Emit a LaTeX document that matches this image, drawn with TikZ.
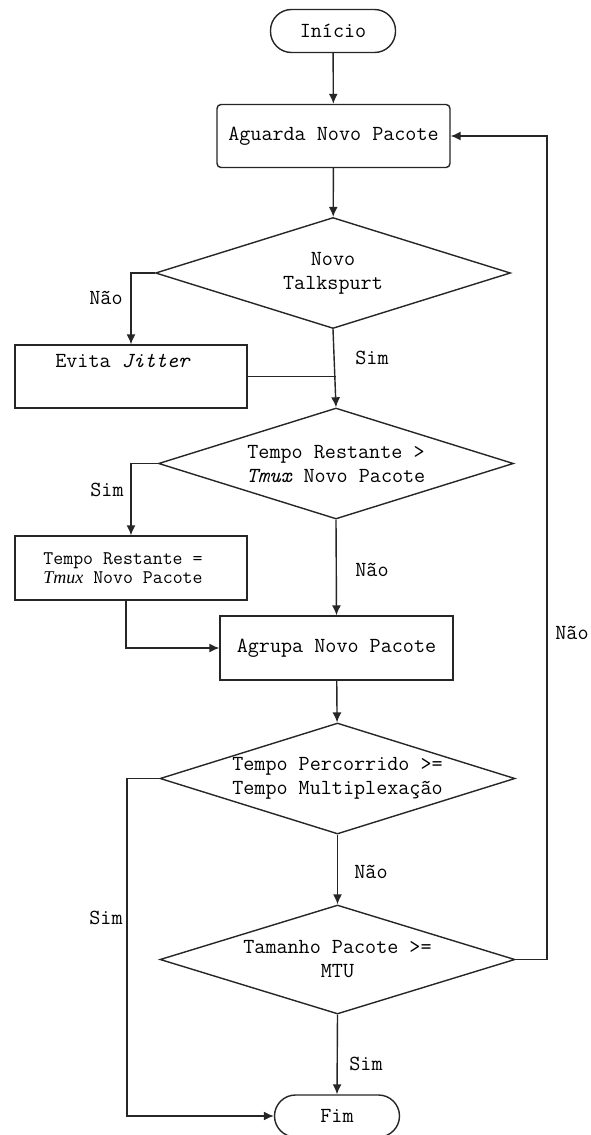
\documentclass[tikz,border=0pt]{standalone}
\usepackage{fontspec}
\newfontfamily\tms{Liberation Serif}
\usetikzlibrary{arrows.meta,shapes.geometric}
\begin{document}
\begin{tikzpicture}[x=1pt,y=-1pt,
  ln/.style={draw=black!85, line width=1.4pt},
  arr/.style={ln, -{Latex[length=10pt,width=9pt]}},
  txt/.style={font=\ttfamily\fontsize{21.5}{24}\selectfont, text=black, align=center, inner sep=0pt},
  small/.style={font=\ttfamily\fontsize{19.3}{19.5}\selectfont, text=black, align=center, inner sep=0pt},
  term/.style={ln, rectangle, rounded corners=21pt, minimum width=125pt, minimum height=43pt, inner sep=0pt, txt},
  proc/.style={ln, rectangle, minimum width=233pt, minimum height=63pt, inner sep=0pt, txt},
  dec/.style={ln, diamond, inner sep=0pt, minimum width=355pt, minimum height=111pt},
  lab/.style={txt}
]
\useasboundingbox (0,0) rectangle (590,1135);
\fill[white] (0,0) rectangle (590,1135);

% nodes
\node[term] (ini) at (333,31) {Início};
\node[proc, rounded corners=4pt] (agu) at (333.5,136) {Aguarda Novo Pacote};
\node[dec, label={[txt]center:{Novo\\Talkspurt}}] (d1) at (333,273) {};
\node[proc, minimum width=232pt, label={[txt, xshift=-8pt, yshift=16pt]center:{Evita \textit{Jitter}}}] (evita) at (131,376.5) {};
\node[dec, label={[txt]center:{Tempo Restante >\\\textit{Tmux} Novo Pacote}}] (d2) at (336,463.5) {};
\node[proc, minimum width=232pt, minimum height=64pt, label={[small, xshift=-8pt]center:{Tempo Restante =\\{\tms\itshape\fontsize{18}{19.5}\selectfont Tmux} Novo Pacote}}] (tr) at (131,568) {};
\node[proc, minimum height=64pt] (agr) at (336.5,648) {Agrupa Novo Pacote};
\node[dec, label={[txt]center:{Tempo Percorrido >=\\Tempo Multiplexação}}] (d3) at (337.5,778.5) {};
\node[dec, minimum height=109pt, label={[txt]center:{Tamanho Pacote >=\\MTU}}] (d4) at (337.5,959.5) {};
\node[term, minimum height=42pt] (fim) at (337,1116) {Fim};

% branch labels
\node[lab] (l1) at (106,298) {Não};
\node[lab] (l2) at (372,358) {Sim};
\node[lab] (l3) at (107,490) {Sim};
\node[lab] (l4) at (372,570) {Não};
\node[lab] (l5) at (106,918) {Sim};
\node[lab] (l6) at (371,872) {Não};
\node[lab] (l7) at (572,633) {Não};
\node[lab] (l8) at (366,1064) {Sim};

% helper coordinates
\coordinate (c1) at (127,1116);
\coordinate (c2) at (547,959.5);

% connectors
\draw[arr] (ini) -- (agu);
\draw[arr] (agu) -- (d1);
\draw[arr] (d1.west) -| (evita.north);
\draw[arr] (d1.south) -- (d2.north);
\draw[ln] (evita.east) -- (evita.east -| d2.north);
\draw[arr] (d2.west) -| (tr.north);
\draw[arr] (d2.south) -- (agr.north);
\draw[arr] ([xshift=-5pt]tr.south) |- (agr.west);
\draw[arr] (agr) -- (d3);
\draw[arr] (d3.west) -| (c1) -- (fim.west);
\draw[arr] (d3.south) -- (d4.north);
\draw[arr] (d4.south) -- (fim.north);
\draw[arr] (d4.east) -- (c2) |- (agu.east);
\end{tikzpicture}
\end{document}
